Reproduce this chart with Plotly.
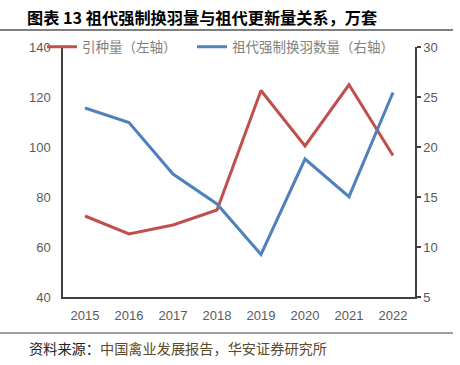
import plotly.graph_objects as go

years = ["2015", "2016", "2017", "2018", "2019", "2020", "2021", "2022"]
intro_volume = [72.4, 65.2, 68.8, 74.8, 122.6, 100.4, 124.9, 96.6]
molting_volume = [23.9, 22.45, 17.3, 14.3, 9.26, 18.8, 15.03, 25.45]
name_left = "引种量（左轴）"
name_right = "祖代强制换羽数量（右轴）"
title_text = "图表 13 祖代强制换羽量与祖代更新量关系，万套"
source_label = "资料来源："
source_text = "中国禽业发展报告，华安证券研究所"

RED = "#C0504D"
BLUE = "#4F81BD"
AX = "#404040"
LBL = "#595959"
NUMFONT = "Liberation Sans"
CJK = "Noto Sans CJK SC"

fig = go.Figure()
fig.add_trace(go.Scatter(x=years, y=intro_volume, name=name_left, mode="lines",
                         line=dict(color=RED, width=3), yaxis="y", legend="legend"))
fig.add_trace(go.Scatter(x=years, y=molting_volume, name=name_right, mode="lines",
                         line=dict(color=BLUE, width=3), yaxis="y2", legend="legend2"))

legend_common = dict(orientation="h", xanchor="left", y=1.0, yanchor="middle",
                     bgcolor="rgba(0,0,0,0)", font=dict(family=CJK, size=13.5, color="#808080"),
                     itemwidth=30)

fig.update_layout(
    width=460, height=365,
    margin=dict(l=63, r=45, t=47, b=68),
    paper_bgcolor="white", plot_bgcolor="white",
    showlegend=True,
    legend=dict(x=(42 - 63) / 352, **legend_common),
    legend2=dict(x=(192 - 63) / 352, **legend_common),
    title=dict(text="<b>" + title_text + "</b>", x=27 / 460, xanchor="left", xref="container",
               y=1 - 18 / 365, yanchor="middle", yref="container",
               font=dict(family=CJK, size=16.2, color="#000000")),
    xaxis=dict(type="category", range=[-0.5, 7.5], showline=True, linecolor=AX, linewidth=1.5,
               showgrid=False, ticks="", tickfont=dict(family=NUMFONT, size=13, color=LBL),
               ticklabelstandoff=6, zeroline=False),
    yaxis=dict(range=[40, 140], dtick=20, tick0=40, showline=True, linecolor=AX, linewidth=1.5,
               showgrid=False, ticks="", tickfont=dict(family=NUMFONT, size=13, color=LBL),
               ticklabelstandoff=8, zeroline=False),
    yaxis2=dict(range=[5, 30], dtick=5, tick0=5, overlaying="y", side="right", showline=True,
                linecolor=AX, linewidth=1.5, showgrid=False, ticks="outside", ticklen=4,
                tickcolor=AX, tickwidth=1.5, tickfont=dict(family=NUMFONT, size=13, color=LBL),
                zeroline=False),
)

fig.add_shape(type="line", xref="paper", yref="paper",
              x0=-63 / 352, x1=(453 - 63) / 352, y0=1 + 17 / 250, y1=1 + 17 / 250,
              line=dict(color="#808080", width=2))
fig.add_shape(type="line", xref="paper", yref="paper",
              x0=-63 / 352, x1=(453 - 63) / 352, y0=-36 / 250, y1=-36 / 250,
              line=dict(color="#404040", width=1.2))

fig.add_annotation(text=source_label + "<span style='color:#5a4a2a'>" + source_text + "</span>",
                   xref="paper", yref="paper", x=(27 - 63) / 352, y=-(348 - 297) / 250,
                   xanchor="left", yanchor="middle", showarrow=False,
                   font=dict(family=CJK, size=14.2, color="#222222"))

fig.write_html("out.html", config={"displayModeBar": False},
               post_script="document.body.style.margin='0';")
